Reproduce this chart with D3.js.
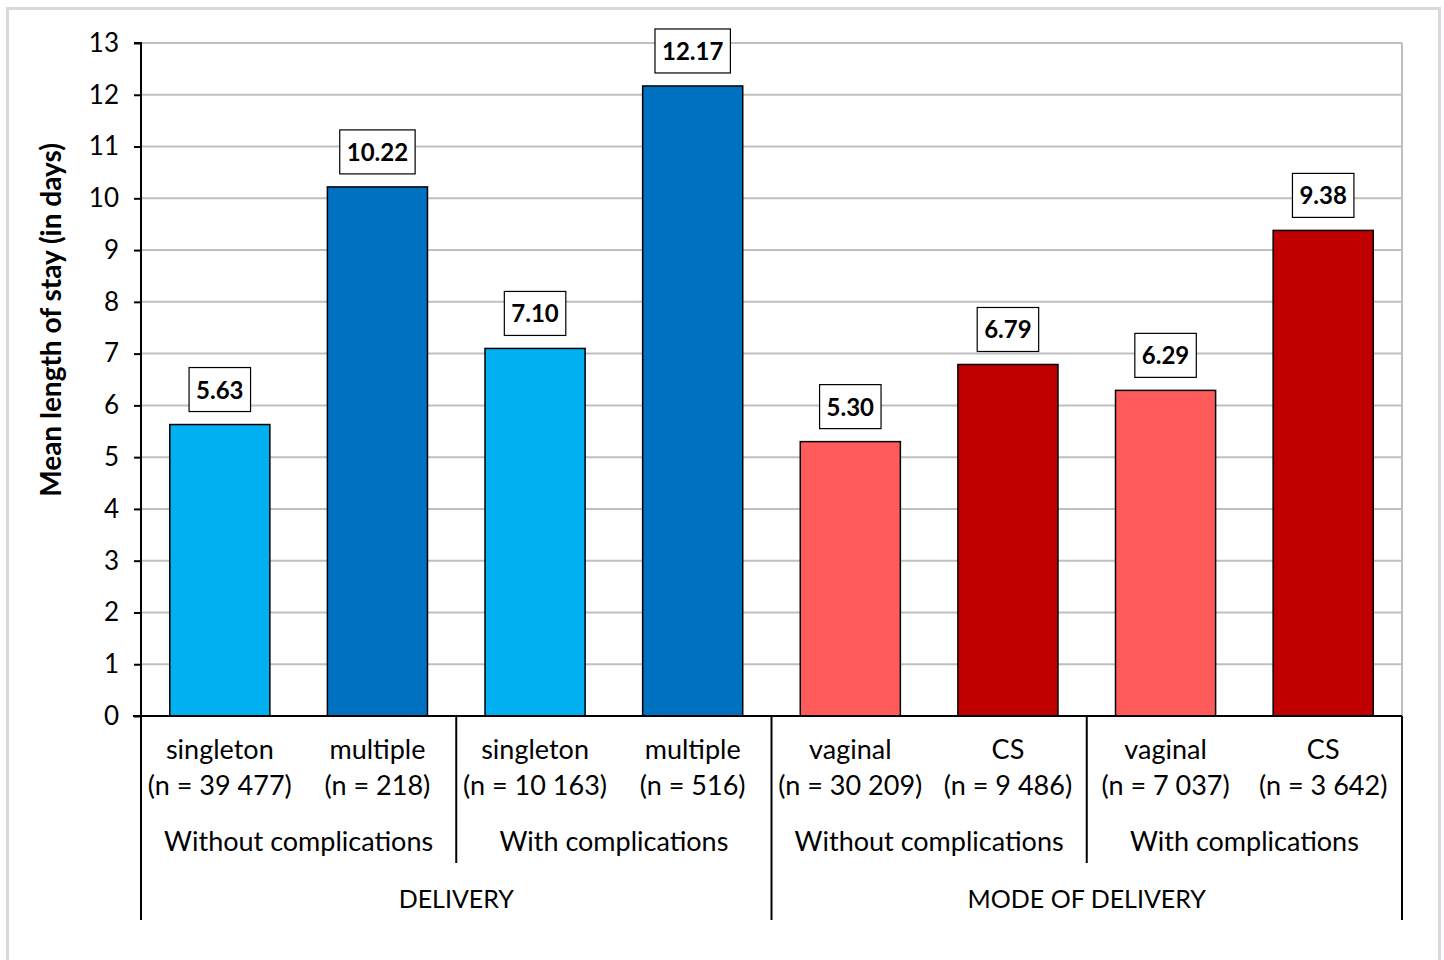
<!DOCTYPE html>
<html>
<head>
<meta charset="utf-8">
<script src="https://cdn.jsdelivr.net/npm/d3@7"></script>
<style>
  html, body { margin: 0; padding: 0; background: #fff; }
  svg { display: block; }
  text { font-family: Lato, "Open Sans", "Liberation Sans", sans-serif; fill: #000; }
</style>
</head>
<body>
<svg id="chart" width="1444" height="960"></svg>
<script>
// Mean length of stay by delivery type and complication status
const categories = ["singleton", "multiple", "singleton", "multiple", "vaginal", "CS", "vaginal", "CS"];
const counts = ["(n = 39 477)", "(n = 218)", "(n = 10 163)", "(n = 516)",
                "(n = 30 209)", "(n = 9 486)", "(n = 7 037)", "(n = 3 642)"];
const values = [5.63, 10.22, 7.10, 12.17, 5.30, 6.79, 6.29, 9.38];
const subgroups = ["Without complications", "With complications", "Without complications", "With complications"];
const groups = ["DELIVERY", "MODE OF DELIVERY"];
const yTicks = [0, 1, 2, 3, 4, 5, 6, 7, 8, 9, 10, 11, 12, 13];
const barColors = ["#00B0F0", "#0070C0", "#00B0F0", "#0070C0", "#FF5B5B", "#C00000", "#FF5B5B", "#C00000"];

const svg = d3.select("#chart");
const plotLeft = 141, plotRight = 1402, plotTop = 43, plotBottom = 716;

// outer frame
svg.append("rect")
  .attr("x", 7.5).attr("y", 8.5).attr("width", 1432).attr("height", 980)
  .attr("fill", "none").attr("stroke", "#d9d9d9").attr("stroke-width", 3);

const x = d3.scaleBand()
  .domain(d3.range(categories.length))
  .range([plotLeft, plotRight])
  .paddingInner(0.365)
  .paddingOuter(0.1825);

const y = d3.scaleLinear().domain([0, 13]).range([plotBottom, plotTop]);

// gridlines
svg.append("g")
  .selectAll("line")
  .data(yTicks.filter(d => d > 0))
  .join("line")
  .attr("x1", plotLeft).attr("x2", plotRight)
  .attr("y1", d => y(d)).attr("y2", d => y(d))
  .attr("stroke", "#bfbfbf").attr("stroke-width", 2);

// right edge of plot area
svg.append("line")
  .attr("x1", plotRight).attr("x2", plotRight)
  .attr("y1", y(13)).attr("y2", plotBottom)
  .attr("stroke", "#bfbfbf").attr("stroke-width", 2);

// y axis
const yAxis = d3.axisLeft(y).tickValues(yTicks).tickSize(7).tickPadding(15);
const gy = svg.append("g").attr("transform", `translate(${plotLeft},0)`).call(yAxis);
gy.select(".domain").attr("stroke", "#000").attr("stroke-width", 2).attr("d", `M-7,${plotTop}H0V${plotBottom}`);
gy.selectAll(".tick line").attr("stroke", "#000").attr("stroke-width", 2);
gy.selectAll(".tick text").style("font-size", "26px").attr("fill", "#000")
  .style("font-family", "Lato, 'Open Sans', sans-serif");

// y axis title
svg.append("text")
  .attr("transform", "translate(61,320) rotate(-90)")
  .attr("text-anchor", "middle")
  .style("font-size", "28px").style("font-weight", "bold")
  .text("Mean length of stay (in days)");

// bars
svg.append("g")
  .selectAll("rect")
  .data(values)
  .join("rect")
  .attr("x", (d, i) => x(i))
  .attr("width", x.bandwidth())
  .attr("y", d => y(d))
  .attr("height", d => plotBottom - y(d))
  .attr("fill", (d, i) => barColors[i])
  .attr("stroke", "#000").attr("stroke-width", 1.5);

// value labels in boxes
const fmt = d3.format(".2f");
const lbl = svg.append("g").selectAll("g").data(values).join("g")
  .attr("transform", (d, i) => `translate(${x(i) + x.bandwidth() / 2},${y(d) - 13})`);
lbl.each(function (d) {
  const g = d3.select(this);
  const t = g.append("text")
    .attr("text-anchor", "middle")
    .attr("y", -13)
    .style("font-size", "24px").style("font-weight", "bold")
    .text(fmt(d));
  const w = t.node().getComputedTextLength() + 14;
  g.insert("rect", "text")
    .attr("x", -w / 2).attr("y", -44).attr("width", w).attr("height", 44)
    .attr("fill", "#fff").attr("stroke", "#000").attr("stroke-width", 1.2);
});

// x axis baseline
svg.append("line")
  .attr("x1", plotLeft - 8).attr("x2", plotRight).attr("y1", plotBottom).attr("y2", plotBottom)
  .attr("stroke", "#000").attr("stroke-width", 2);

// category labels
const cx = i => x(i) + x.bandwidth() / 2;
svg.append("g").selectAll("text").data(categories).join("text")
  .attr("x", (d, i) => cx(i)).attr("y", 759)
  .attr("text-anchor", "middle").style("font-size", "27px").text(d => d);
svg.append("g").selectAll("text").data(counts).join("text")
  .attr("x", (d, i) => cx(i)).attr("y", 795)
  .attr("text-anchor", "middle").style("font-size", "27px").text(d => d);

// subgroup labels (pairs of categories)
const step = x.step();
svg.append("g").selectAll("text").data(subgroups).join("text")
  .attr("x", (d, i) => plotLeft + step * (2 * i + 1))
  .attr("y", 851)
  .attr("text-anchor", "middle").style("font-size", "27px").text(d => d);

// group labels (four categories each)
svg.append("g").selectAll("text").data(groups).join("text")
  .attr("x", (d, i) => plotLeft + step * (4 * i + 2))
  .attr("y", 908)
  .attr("text-anchor", "middle").style("font-size", "25px").text(d => d);

// separators below the axis
const sep = svg.append("g").attr("stroke", "#000").attr("stroke-width", 2);
d3.range(0, categories.length + 1, 2).forEach(k => {
  const xp = plotLeft + step * k;
  const long = k % 4 === 0;
  sep.append("line")
    .attr("x1", xp).attr("x2", xp)
    .attr("y1", plotBottom).attr("y2", long ? 920 : 863);
});
</script>
</body>
</html>
